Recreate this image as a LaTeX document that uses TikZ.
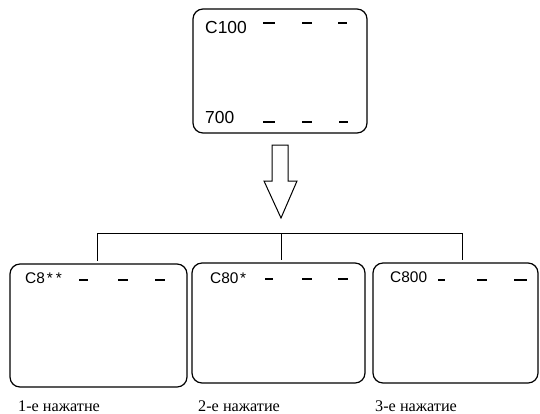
\documentclass[tikz,border=0pt]{standalone}
\usepackage{fontspec}
\setmainfont{Liberation Serif}
\newfontfamily\boxsans{Liberation Sans}
\begin{document}
\begin{tikzpicture}[x=1bp,y=-1bp,
  screen/.style={draw, line width=1.2bp, rounded corners=10bp, inner sep=0pt},
  bigtxt/.style={anchor=base west, inner sep=0pt, font=\boxsans\fontsize{17.5}{20}\selectfont},
  smalltxt/.style={anchor=base west, inner sep=0pt, font=\boxsans\fontsize{15.5}{18}\selectfont},
  labeltxt/.style={anchor=base west, inner sep=0pt, font=\fontsize{16.3}{19}\selectfont},
  dashmark/.style={line width=1.3bp},
  tree/.style={line width=1bp},
  blockarrow/.style={draw, line width=1bp, line join=miter, fill=white}]
\useasboundingbox (0,0) rectangle (540,413);
% top screen
\node[screen, minimum width=174bp, minimum height=124bp] (top) at (280,71) {};
\node[bigtxt] (t100) at (205,33) {C100};
\node[bigtxt] (t700) at (205,123) {700};
\draw[dashmark] (263,23) -- (275,23) (302,23) -- (312,23) (338,23) -- (347,23);
\draw[dashmark] (263,122) -- (275,122) (302,122) -- (312,122) (339,122) -- (348,122);
% block arrow
\draw[blockarrow] (272,145) -- (288,145) -- (288,181) -- (297,181) -- (281,218)
  -- (264,181) -- (272,181) -- cycle;
% tree connector
\coordinate (j1) at (97,233);
\coordinate (j2) at (281,233);
\coordinate (j3) at (462,233);
\coordinate (e1) at (97,261);
\coordinate (e2) at (281,260);
\coordinate (e3) at (462,260);
\draw[tree] (j1) -- (j3);
\draw[tree] (j1) -- (e1);
\draw[tree] (j2) -- (e2);
\draw[tree] (j3) -- (e3);
% bottom screens
\node[screen, minimum width=177bp, minimum height=123bp] (s1) at (98.5,325.5) {};
\node[screen, minimum width=173bp, minimum height=120bp] (s2) at (278.5,323) {};
\node[screen, minimum width=165bp, minimum height=120bp] (s3) at (455.5,323) {};
\node[smalltxt] (c1) at (25,283) {C8{\kern2bp}*{\kern3bp}*};
\node[smalltxt] (c2) at (210,283) {C80{\kern1.5bp}*};
\node[smalltxt] (c3) at (390,282) {C800};
\draw[dashmark] (79,280) -- (88,280) (118,280) -- (128,280) (155,280) -- (165,280);
\draw[dashmark] (265,279) -- (273,279) (302,279) -- (312,279) (338,279) -- (348,279);
\draw[dashmark] (438,280) -- (445,280) (477,280) -- (487,280) (514,280) -- (527,280);
% labels
\node[labeltxt] (l1) at (18,411) {1-е нажатне};
\node[labeltxt] (l2) at (198,411) {2-е нажатие};
\node[labeltxt] (l3) at (375,411) {3-е нажатие};
\end{tikzpicture}
\end{document}
